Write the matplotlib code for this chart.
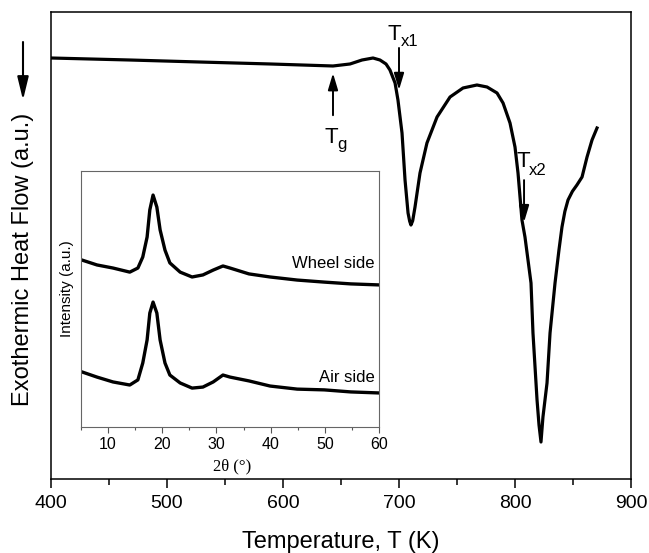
import matplotlib
matplotlib.use("Agg")
import matplotlib.pyplot as plt
from matplotlib.ticker import MultipleLocator

plt.rcParams['font.family'] = ['Liberation Sans', 'DejaVu Sans']

# ---- DSC data (Temperature K, heat flow a.u.) ----
dsc_T = [400, 468.1, 528.4, 588.8, 643.1, 657.8, 668.1, 677.6, 683.6, 688.8,
         692.2, 696.6, 699.1, 702.6, 705.2, 707.8, 709.2, 710.3, 711.8, 713.8,
         718.1, 724.1, 732.8, 744.0, 755.2, 767.2, 775.9, 784.5, 789.7, 795.7,
         800.0, 802.6, 806.0, 808.6, 811.2, 813.8, 815.5, 819.0, 820.7, 822.4,
         824.1, 827.6, 830.2, 834.5, 837.9, 840.5, 843.0, 845.7, 849.5, 853.4,
         857.8, 862.1, 866.4, 870.7]
dsc_H = [90.15, 89.72, 89.29, 88.87, 88.44, 88.87, 89.72, 90.15, 89.72, 88.87,
         87.58, 84.80, 81.16, 74.09, 64.03, 56.96, 55.2, 54.39, 55.3, 58.24,
         65.52, 71.95, 77.52, 81.80, 83.73, 84.37, 83.94, 82.66, 80.51, 76.23,
         71.09, 65.52, 55.46, 51.82, 46.90, 41.97, 31.26, 16.92, 11.56, 7.92,
         13.28, 20.56, 31.26, 41.97, 49.04, 53.96, 57.3, 59.74, 61.6, 62.96,
         64.67, 68.95, 72.59, 75.16]

# ---- XRD inset data (2theta deg, intensity a.u.) ----
xrd_2t = [5.2, 7.95, 10.9, 14.0, 15.5, 16.4, 17.2, 17.7, 18.3, 19.0, 19.6, 20.5,
          21.4, 23.3, 25.5, 27.5, 29.4, 31.2, 32.5, 36.0, 39.9, 44.9, 49.9, 54.8, 60.0]
wheel_I = [65.2, 63.3, 62.1, 60.5, 62.1, 66.4, 74.2, 84.8, 90.6, 85.9, 77.0, 69.1,
           64.1, 60.5, 58.6, 59.4, 61.3, 62.9, 62.1, 59.8, 58.6, 57.4, 56.6, 55.9, 55.5]
air_I = [21.5, 19.5, 17.6, 16.4, 18.4, 25.0, 34.0, 44.5, 48.8, 44.5, 34.0, 25.0,
         20.3, 17.2, 15.2, 15.6, 17.6, 20.3, 19.5, 18.0, 16.0, 14.8, 14.5, 13.7, 13.3]

W, H = 649, 553
fig = plt.figure(figsize=(W / 100, H / 100), dpi=100)

# main axes
ax = fig.add_axes([51 / W, (H - 479) / H, 580 / W, 467 / H])
ax.plot(dsc_T, dsc_H, color='black', lw=2.3, solid_joinstyle='round')
ax.set_xlim(400, 900)
ax.set_ylim(0, 100)
ax.xaxis.set_major_locator(MultipleLocator(100))
ax.xaxis.set_minor_locator(MultipleLocator(50))
ax.set_yticks([])
ax.tick_params(axis='x', which='major', direction='out', length=6.5, width=1.1,
               labelsize=14, pad=5)
ax.tick_params(axis='x', which='minor', direction='out', length=4.5, width=1.1)
for s in ax.spines.values():
    s.set_linewidth(1.1)

# annotations
ap = dict(arrowstyle='-|>,head_length=0.5,head_width=0.15', color='black',
          lw=1.4, shrinkA=0, shrinkB=0, mutation_scale=20)
ax.annotate('', xy=(643.1, 86.9), xytext=(643.1, 77.9), arrowprops=ap)
ax.annotate('', xy=(700.0, 83.3), xytext=(700.0, 92.3), arrowprops=ap)
ax.annotate('', xy=(807.8, 55.0), xytext=(807.8, 64.0), arrowprops=ap)

ax.text(636.2, 71.95, 'T', fontsize=16, ha='left', va='baseline')
ax.text(647.0, 70.66, 'g', fontsize=12, ha='left', va='baseline')
ax.text(689.7, 94.0, 'T', fontsize=16, ha='left', va='baseline')
ax.text(701.4, 92.7, 'x1', fontsize=12, ha='left', va='baseline')
ax.text(800.9, 66.8, 'T', fontsize=16, ha='left', va='baseline')
ax.text(812.1, 65.1, 'x2', fontsize=12, ha='left', va='baseline')

fig.text(341 / W, (H - 548) / H, 'Temperature, T (K)', fontsize=17,
         ha='center', va='baseline')
fig.text(23 / W, (H - 259) / H, 'Exothermic Heat Flow (a.u.)', fontsize=17,
         rotation=90, ha='center', va='center')
ap2 = dict(arrowstyle='-|>,head_length=0.7,head_width=0.17', color='black',
           lw=1.5, shrinkA=0, shrinkB=0, mutation_scale=20)
ax.annotate('', xy=(23 / W, (H - 100) / H), xytext=(23 / W, (H - 42) / H),
            xycoords='figure fraction', textcoords='figure fraction',
            arrowprops=ap2, annotation_clip=False)

# inset axes
ins = fig.add_axes([81 / W, (H - 427) / H, 298 / W, 256 / H])
ins.plot(xrd_2t, wheel_I, color='black', lw=2.4, solid_joinstyle='round')
ins.plot(xrd_2t, air_I, color='black', lw=2.4, solid_joinstyle='round')
ins.set_xlim(5, 60)
ins.set_ylim(0, 100)
ins.xaxis.set_major_locator(MultipleLocator(10))
ins.xaxis.set_minor_locator(MultipleLocator(5))
ins.set_yticks([])
ins.tick_params(axis='x', which='major', direction='out', length=4, width=0.8,
                labelsize=11.5, pad=3, color='#555555')
ins.tick_params(axis='x', which='minor', direction='out', length=2.5, width=0.8,
                color='#555555')
for s in ins.spines.values():
    s.set_linewidth(0.8)
    s.set_color('#666666')
ins.text(59.26, 62.1, 'Wheel side', fontsize=12, ha='right', va='baseline')
ins.text(59.26, 17.6, 'Air side', fontsize=12, ha='right', va='baseline')
fig.text(67 / W, (H - 289) / H, 'Intensity (a.u.)', fontsize=11,
         rotation=90, ha='center', va='center')
fig.text(232 / W, (H - 470) / H, '2θ (°)', fontsize=12, ha='center',
         va='baseline', family=['Liberation Serif', 'DejaVu Serif'])

fig.savefig('out.png', dpi=100)
